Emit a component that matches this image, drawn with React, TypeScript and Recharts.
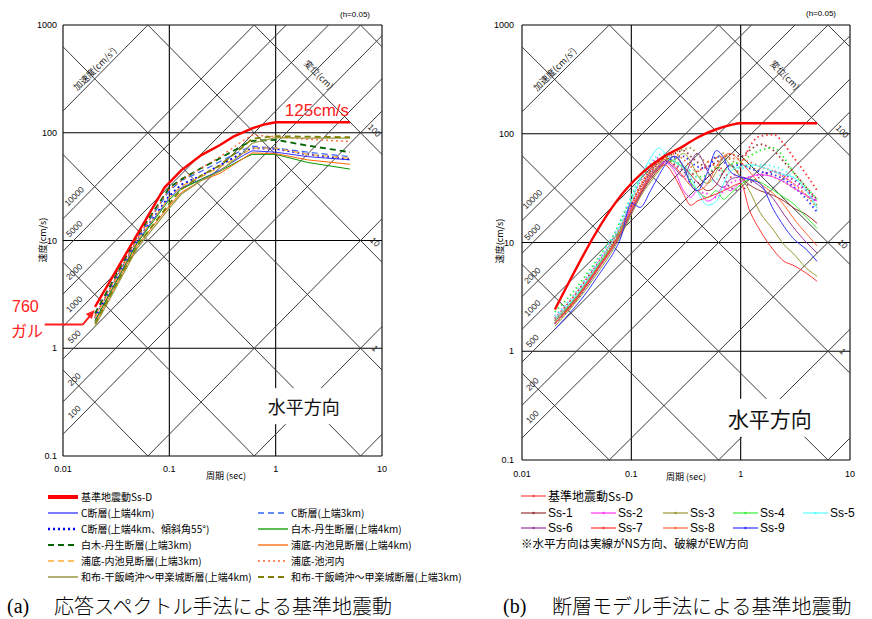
import React from 'react';
import { LineChart, Line, XAxis, YAxis, CartesianGrid, ReferenceLine, ReferenceDot } from 'recharts';

// ---------- axes ----------
const xTicks = [0.01, 0.1, 1, 10];
const yTicks = [0.1, 1, 10, 100, 1000];
const accelLines = [0.1, 1, 10, 100, 200, 500, 1000, 2000, 5000, 10000, 100000, 1000000];
const accelLabels = [100, 200, 500, 1000, 2000, 5000, 10000];
const dispLines = [0.001, 0.01, 0.1, 1, 10, 100, 1000];
const dispLabels = [100, 10, 1];

// ---------- chart (a) data ----------
const ssdPeriods = [0.02, 0.09, 0.13, 0.2, 0.3, 0.4, 0.6, 0.8, 1, 5];
const ssdValues = [2.42, 31, 45, 62, 77, 92, 110, 120, 125, 125];

const periodsA = [0.02, 0.05, 0.1, 0.13, 0.2, 0.3, 0.5, 0.6, 1, 2, 5];
const c4km = [1.8, 9.8, 25, 31, 37, 45, 62, 68, 66, 60, 56];
const c3km = [2.0, 10.5, 29, 36, 44, 54, 70, 75, 72, 66, 60];
const c4km55 = [1.9, 10, 26, 33, 40, 50, 66, 72, 71, 63, 57];
const shiraki4 = [1.8, 9.5, 24, 30, 37, 44, 58, 63, 63, 53, 46];
const shiraki3 = [2.1, 11, 31, 37, 47, 58, 77, 84, 86, 76, 66];
const urasoko4 = [1.7, 9, 21, 28, 36, 42, 58, 65, 64, 56, 51];
const urasoko3 = [1.9, 10, 25, 32, 39, 48, 64, 72, 72, 63, 58];
const urasokoIke = [2.0, 10.5, 30, 36, 47, 60, 85, 95, 92, 87, 83];
const mefu4 = [1.6, 8.5, 20, 27, 36, 44, 66, 80, 90, 89, 89];
const mefu3 = [1.7, 9, 22, 30, 40, 50, 75, 88, 93, 92, 91];

const faultNames = [
  'C断層(上端4km)', 'C断層(上端3km)', 'C断層(上端4km、傾斜角55°)', '白木-丹生断層(上端4km)',
  '白木-丹生断層(上端3km)', '浦底-内池見断層(上端4km)', '浦底-内池見断層(上端3km)', '浦底-池河内',
  '和布-干飯崎沖～甲楽城断層(上端4km)', '和布-干飯崎沖～甲楽城断層(上端3km)',
];
const faultValues = [c4km, c3km, c4km55, shiraki4, shiraki3, urasoko4, urasoko3, urasokoIke, mefu4, mefu3];
const faultStyles = [
  { color: '#3333ff', w: 1, dash: undefined },
  { color: '#3366ff', w: 1.2, dash: '6 4' },
  { color: '#0000ff', w: 2, dash: '2 3' },
  { color: '#009900', w: 1, dash: undefined },
  { color: '#006600', w: 1.8, dash: '6 4' },
  { color: '#ff6600', w: 1, dash: undefined },
  { color: '#ffaa33', w: 1.2, dash: '6 4' },
  { color: '#ff6633', w: 1.3, dash: '2 3' },
  { color: '#999944', w: 1.2, dash: undefined },
  { color: '#808000', w: 1.8, dash: '6 4' },
];

// ---------- chart (b) data ----------
const periodsB = [0.02, 0.03, 0.04, 0.05, 0.06, 0.07, 0.08, 0.1, 0.12, 0.15, 0.18, 0.2, 0.25, 0.3, 0.35, 0.4, 0.5, 0.6, 0.7, 0.8, 1, 1.2, 1.5, 2, 2.5, 3, 4, 5];
const ss1NS = [1.8, 2.9, 4.2, 5.8, 7.5, 9.5, 12, 19, 27, 38, 48, 55, 62, 50, 42, 36, 30, 34, 45, 52, 40, 34, 30, 27, 24, 21, 18, 15];
const ss2NS = [1.9, 3.0, 4.4, 6.0, 7.8, 10, 13, 21, 29, 42, 50, 54, 45, 30, 26, 30, 24, 27, 33, 30, 36, 40, 42, 40, 36, 32, 27, 24];
const ss3NS = [1.7, 2.7, 3.9, 5.4, 7.0, 9.0, 11.5, 18, 26, 36, 46, 52, 58, 66, 55, 42, 35, 45, 60, 52, 40, 30, 19, 13, 9.5, 8, 5.8, 4.9];
const ss4NS = [1.9, 3.0, 4.5, 6.2, 8.0, 10, 13, 20, 28, 40, 52, 58, 55, 48, 36, 30, 26, 30, 25, 28, 34, 38, 36, 30, 26, 23, 17, 13.5];
const ss5NS = [2.0, 3.1, 4.6, 6.4, 8.5, 11, 14.5, 24, 38, 60, 74, 68, 55, 48, 40, 30, 22, 24, 35, 45, 50, 52, 50, 45, 42, 40, 30, 21];
const ss6NS = [1.8, 2.8, 4.1, 5.7, 7.4, 9.5, 12, 19, 27, 40, 50, 56, 48, 40, 55, 66, 45, 35, 32, 38, 40, 38, 33, 25, 18, 14, 10, 8.0];
const ss7NS = [1.8, 2.9, 4.3, 6.0, 7.7, 10, 12.5, 20, 28, 40, 48, 52, 40, 28, 22, 24, 26, 28, 30, 32, 35, 20, 13, 8.5, 6.7, 6.2, 5.2, 4.4];
const ss8NS = [1.8, 2.8, 4.2, 5.8, 7.5, 9.7, 12.5, 20, 29, 42, 52, 58, 50, 40, 33, 30, 35, 50, 62, 66, 55, 45, 35, 28, 22, 17, 12, 9.3];
const ss9NS = [1.6, 2.5, 3.6, 5.0, 6.5, 8.3, 11, 23, 21, 30, 42, 50, 62, 50, 34, 30, 45, 70, 60, 45, 40, 38, 35, 20, 14, 11, 8.6, 6.7];
const ss1EW = [2.0, 3.2, 4.8, 6.5, 8.5, 11, 14, 22, 32, 45, 55, 60, 66, 70, 62, 55, 50, 55, 60, 65, 62, 70, 80, 70, 55, 45, 32, 25];
const ss2EW = [2.1, 3.3, 4.9, 6.8, 9, 12, 15, 25, 36, 52, 60, 58, 50, 40, 35, 30, 28, 26, 30, 35, 38, 40, 42, 45, 40, 35, 30, 24];
const ss3EW = [1.9, 3.0, 4.5, 6.2, 8.0, 10.5, 13.5, 22, 31, 44, 55, 60, 68, 72, 74, 65, 55, 60, 66, 58, 52, 50, 45, 40, 36, 32, 27, 22];
const ss4EW = [2.3, 3.6, 5.3, 7.2, 9.5, 12, 16, 26, 37, 50, 58, 62, 55, 50, 45, 40, 42, 50, 45, 52, 55, 62, 70, 74, 60, 45, 32, 25];
const ss5EW = [2.1, 3.3, 5.0, 7.0, 9.3, 12, 16, 27, 40, 55, 64, 66, 58, 50, 45, 40, 36, 38, 45, 50, 48, 50, 52, 50, 46, 40, 30, 20];
const ss6EW = [1.9, 3.0, 4.4, 6.1, 8.0, 10.2, 13, 21, 30, 44, 54, 58, 52, 45, 38, 35, 40, 48, 40, 32, 30, 35, 40, 45, 42, 38, 30, 23];
const ss7EW = [2.0, 3.2, 4.7, 6.5, 8.5, 11, 14, 23, 33, 47, 56, 60, 55, 48, 42, 45, 50, 52, 45, 40, 50, 75, 95, 98, 80, 62, 42, 30];
const ss8EW = [1.9, 3.0, 4.5, 6.3, 8.2, 10.5, 13.5, 22, 32, 46, 55, 60, 65, 58, 50, 45, 55, 60, 62, 60, 58, 55, 50, 45, 40, 35, 27, 21];
const ss9EW = [1.8, 2.8, 4.2, 5.9, 7.7, 9.8, 12.5, 20, 28, 42, 50, 55, 60, 62, 55, 50, 48, 62, 55, 50, 52, 48, 45, 42, 38, 33, 25, 19];

const ssNames = ['Ss-1', 'Ss-2', 'Ss-3', 'Ss-4', 'Ss-5', 'Ss-6', 'Ss-7', 'Ss-8', 'Ss-9'];
const ssColors = ['#993333', '#ff33ff', '#999933', '#33ee33', '#55ffff', '#993399', '#ff3333', '#ff6633', '#3333ff'];
const ssNS = [ss1NS, ss2NS, ss3NS, ss4NS, ss5NS, ss6NS, ss7NS, ss8NS, ss9NS];
const ssEW = [ss1EW, ss2EW, ss3EW, ss4EW, ss5EW, ss6EW, ss7EW, ss8EW, ss9EW];

// ---------- helpers ----------
const toRows = (ts: number[], vs: number[]) => ts.map((t, i) => ({ t, v: vs[i] }));

function accelSegment(a: number) {
  const c = Math.log10(a / (2 * Math.PI));
  const x0 = Math.max(-2, -1 - c);
  const x1 = Math.min(1, 3 - c);
  if (x1 <= x0) return null;
  return [{ x: 10 ** x0, y: 10 ** (x0 + c) }, { x: 10 ** x1, y: 10 ** (x1 + c) }];
}
function dispSegment(d: number) {
  const k = Math.log10(2 * Math.PI * d);
  const x0 = Math.max(-2, k - 3);
  const x1 = Math.min(1, k + 1);
  if (x1 <= x0) return null;
  return [{ x: 10 ** x0, y: 10 ** (k - x0) }, { x: 10 ** x1, y: 10 ** (k - x1) }];
}

const SANS = '"Liberation Sans", Arial, sans-serif';
const JP = '"Noto Sans CJK JP", "Liberation Sans", sans-serif';

const rotText = (txt: React.ReactNode, angle: number, size: number, color = '#222', dx = 0, dy = 0, family = SANS) =>
  (p: any) => (
    <text
      x={p.cx + dx}
      y={p.cy + dy}
      transform={`rotate(${angle} ${p.cx + dx} ${p.cy + dy})`}
      textAnchor="middle"
      dominantBaseline="central"
      fontSize={size}
      fontFamily={family}
      fill={color}
    >
      {txt}
    </text>
  );

const boxText = (txt: string, size: number, w: number, h: number) => (p: any) => (
  <g>
    <rect x={p.cx - w / 2} y={p.cy - h / 2} width={w} height={h} fill="#fff" />
    <text x={p.cx} y={p.cy} textAnchor="middle" dominantBaseline="central" fontSize={size} fontFamily={JP} fill="#111">
      {txt}
    </text>
  </g>
);

function gridElements(labelT: number) {
  const els: React.ReactNode[] = [];
  accelLines.forEach((a) => {
    const s = accelSegment(a);
    if (s) els.push(<ReferenceLine key={'a' + a} segment={s} stroke="#3a3a3a" strokeWidth={1} ifOverflow="visible" />);
  });
  dispLines.forEach((d) => {
    const s = dispSegment(d);
    if (s) els.push(<ReferenceLine key={'d' + d} segment={s} stroke="#3a3a3a" strokeWidth={1} ifOverflow="visible" />);
  });
  accelLabels.forEach((a) => {
    els.push(
      <ReferenceDot key={'al' + a} x={labelT} y={(a * labelT) / (2 * Math.PI)} r={0} ifOverflow="visible"
        shape={rotText(String(a), -45, 8.5, '#222', -5, -6)} />
    );
  });
  const dispLabelPos = [[8.5, 105], [8.6, 9.7], [8.6, 1.0]];
  dispLabels.forEach((d, i) => {
    els.push(
      <ReferenceDot key={'dl' + d} x={dispLabelPos[i][0]} y={dispLabelPos[i][1]} r={0} ifOverflow="visible"
        shape={rotText(String(d), 45, 8.5, '#222')} />
    );
  });
  els.push(
    <ReferenceDot key="accTitle" x={0.0198} y={395} r={0} ifOverflow="visible"
      shape={rotText(<tspan>加速度(cm/s<tspan fontSize={5} dy={-3}>2</tspan><tspan dy={3}>)</tspan></tspan>, -45, 9, '#222', 0, 0, JP)} />
  );
  els.push(
    <ReferenceDot key="dispTitle" x={2.55} y={347} r={0} ifOverflow="visible"
      shape={rotText('変位(cm)', 45, 9, '#222', 0, 0, JP)} />
  );
  return els;
}

const axisTick = { fontSize: 9, fontFamily: SANS, fill: '#000' };

function ChartA() {
  return (
    <LineChart width={436} height={500} margin={{ top: 25, right: 54, bottom: 14, left: 0 }}>
      <CartesianGrid stroke="#000" strokeWidth={1.1} />
      <XAxis dataKey="t" type="number" scale="log" domain={[0.01, 10]} allowDataOverflow ticks={xTicks}
        tickFormatter={(v) => String(v)} tickLine={false} axisLine={false} tickSize={8} height={30} tick={axisTick} interval={0} />
      <YAxis type="number" scale="log" domain={[0.1, 1000]} allowDataOverflow ticks={yTicks}
        tickFormatter={(v) => String(v)} tickLine={false} axisLine={false} tickSize={4} width={63} tick={axisTick} interval={0} />
      {gridElements(0.0142)}
      <ReferenceDot x={1.84} y={0.29} r={0} ifOverflow="visible" shape={boxText('水平方向', 18, 84, 36)} />
      {faultNames.map((n, i) => (
        <Line key={n} data={toRows(periodsA, faultValues[i])} dataKey="v" type="linear" stroke={faultStyles[i].color}
          strokeWidth={faultStyles[i].w} strokeDasharray={faultStyles[i].dash} dot={false} isAnimationActive={false} />
      ))}
      <Line data={toRows(ssdPeriods, ssdValues)} dataKey="v" type="linear" stroke="#ff0000" strokeWidth={2.4}
        dot={false} isAnimationActive={false} />
      <ReferenceDot x={1.22} y={143} r={0} ifOverflow="visible"
        shape={(p: any) => (
          <text x={p.cx} y={p.cy} fontSize={17} fontFamily={SANS} fill="#ff2020">125cm/s</text>
        )} />
      <ReferenceLine segment={[{ x: 0.00673, y: 1.657 }, { x: 0.01533, y: 1.657 }]} stroke="#ff2020" strokeWidth={2} ifOverflow="visible" />
      <ReferenceLine segment={[{ x: 0.01533, y: 1.657 }, { x: 0.0186, y: 2.08 }]} stroke="#ff2020" strokeWidth={2} ifOverflow="visible" />
      <ReferenceDot x={0.0199} y={2.26} r={0} ifOverflow="visible"
        shape={(p: any) => (
          <polygon points={`${p.cx},${p.cy} ${p.cx - 9},${p.cy + 4} ${p.cx - 3},${p.cy + 9}`} fill="#ff2020" />
        )} />
    </LineChart>
  );
}

function ChartB() {
  return (
    <LineChart width={436} height={500} margin={{ top: 25, right: 22, bottom: 10, left: 0 }}>
      <CartesianGrid stroke="#000" strokeWidth={1.1} />
      <XAxis dataKey="t" type="number" scale="log" domain={[0.01, 10]} allowDataOverflow ticks={xTicks}
        tickFormatter={(v) => String(v)} tickLine={false} axisLine={false} tickSize={9} height={30} tick={axisTick} interval={0} />
      <YAxis type="number" scale="log" domain={[0.1, 1000]} allowDataOverflow ticks={yTicks}
        tickFormatter={(v) => String(v)} tickLine={false} axisLine={false} tickSize={6} width={86} tick={axisTick} interval={0} />
      {gridElements(0.0138)}
      <ReferenceDot x={1.85} y={0.244} r={0} ifOverflow="visible" shape={boxText('水平方向', 21, 100, 38)} />
      {ssNames.map((n, i) => (
        <Line key={n + 'ew'} data={toRows(periodsB, ssEW[i])} dataKey="v" type="monotone" stroke={ssColors[i]}
          strokeWidth={1.8} strokeDasharray="1.5 3" dot={false} isAnimationActive={false} />
      ))}
      {ssNames.map((n, i) => (
        <Line key={n + 'ns'} data={toRows(periodsB, ssNS[i])} dataKey="v" type="monotone" stroke={ssColors[i]}
          strokeWidth={1} dot={false} isAnimationActive={false} />
      ))}
      <Line data={toRows(ssdPeriods, ssdValues)} dataKey="v" type="monotone" stroke="#ff0000" strokeWidth={2.4}
        dot={false} isAnimationActive={false} />
    </LineChart>
  );
}

const abs = (left: number, top: number, extra: React.CSSProperties = {}): React.CSSProperties => ({
  position: 'absolute', left, top, whiteSpace: 'nowrap', ...extra,
});

function LegendLine({ x, y, color, w, dash, len = 30, marker = false }: any) {
  return (
    <svg style={abs(x, y - 5)} width={len} height={10}>
      <line x1={0} y1={5} x2={len} y2={5} stroke={color} strokeWidth={w} strokeDasharray={dash} />
      {marker && <circle cx={len / 2} cy={5} r={1.2} fill={color} />}
    </svg>
  );
}

function LegendA() {
  const rows = [513, 529, 545, 561, 577];
  const items: React.ReactNode[] = [];
  items.push(<LegendLine key="ssdl" x={48} y={497} color="#ff0000" w={4} />);
  items.push(<div key="ssdt" style={abs(81, 497 - 7, { fontSize: 10, fontFamily: JP, lineHeight: '14px' })}>基準地震動Ss-D</div>);
  faultNames.forEach((n, i) => {
    const row = Math.floor(i / 2);
    const col = i % 2;
    const lx = col === 0 ? 48 : 258;
    const y = rows[row];
    items.push(<LegendLine key={'l' + i} x={lx} y={y} color={faultStyles[i].color} w={faultStyles[i].w + 0.3} dash={faultStyles[i].dash} />);
    items.push(<div key={'t' + i} style={abs(lx + 33, y - 7, { fontSize: 10, fontFamily: JP, lineHeight: '14px' })}>{n}</div>);
  });
  return <>{items}</>;
}

function LegendB() {
  const cols = [521, 591, 663, 733, 803];
  const items: React.ReactNode[] = [];
  items.push(<LegendLine key="ssdl" x={521} y={496} color="#ff4444" w={1.2} len={25} marker />);
  items.push(<div key="ssdt" style={abs(548, 496 - 8, { fontSize: 12, fontFamily: JP, lineHeight: '16px' })}>基準地震動Ss-D</div>);
  ssNames.forEach((n, i) => {
    const row = i < 5 ? 0 : 1;
    const col = i < 5 ? i : i - 5;
    const y = row === 0 ? 512.5 : 528;
    items.push(<LegendLine key={'l' + i} x={cols[col]} y={y} color={ssColors[i]} w={1.2} len={25} marker />);
    items.push(<div key={'t' + i} style={abs(cols[col] + 27, y - 8, { fontSize: 12, fontFamily: SANS, lineHeight: '16px' })}>{n}</div>);
  });
  items.push(<div key="note" style={abs(521, 543 - 8, { fontSize: 11.5, fontFamily: JP, lineHeight: '16px' })}>※水平方向は実線がNS方向、破線がEW方向</div>);
  return <>{items}</>;
}

export default function App() {
  return (
    <div style={{ position: 'absolute', left: 0, top: 0, width: 872, height: 619, background: '#fff', overflow: 'hidden' }}>
      <div style={abs(0, 0)}><ChartA /></div>
      <div style={abs(436, 0)}><ChartB /></div>

      <div style={abs(340, 10, { fontSize: 8, fontFamily: SANS })}>(h=0.05)</div>
      <div style={abs(806, 9, { fontSize: 8, fontFamily: SANS })}>(h=0.05)</div>
      <div style={abs(226, 475, { fontSize: 9, fontFamily: JP, transform: 'translate(-50%,-50%)' })}>周期 (sec)</div>
      <div style={abs(686, 476, { fontSize: 9, fontFamily: JP, transform: 'translate(-50%,-50%)' })}>周期 (sec)</div>
      <div style={abs(42, 240, { fontSize: 9, fontFamily: JP, transform: 'translate(-50%,-50%) rotate(-90deg)' })}>速度(cm/s)</div>
      <div style={abs(499, 241, { fontSize: 9, fontFamily: JP, transform: 'translate(-50%,-50%) rotate(-90deg)' })}>速度(cm/s)</div>
      <div style={abs(12, 297, { fontSize: 16, fontFamily: SANS, color: '#ff2020', lineHeight: '20px' })}>760</div>
      <div style={abs(11, 319, { fontSize: 16, fontFamily: JP, color: '#ff2020', lineHeight: '22px' })}>ガル</div>

      <LegendA />
      <LegendB />

      <div style={abs(7, 594, { fontSize: 20, fontFamily: '"Liberation Serif", serif', lineHeight: '24px' })}>(a)</div>
      <div style={abs(54, 594, { fontSize: 20, fontFamily: JP, lineHeight: '24px', fontWeight: 300 })}>応答スペクトル手法による基準地震動</div>
      <div style={abs(503, 594, { fontSize: 20, fontFamily: '"Liberation Serif", serif', lineHeight: '24px' })}>(b)</div>
      <div style={abs(552, 594, { fontSize: 20, fontFamily: JP, lineHeight: '24px', fontWeight: 300 })}>断層モデル手法による基準地震動</div>
    </div>
  );
}
